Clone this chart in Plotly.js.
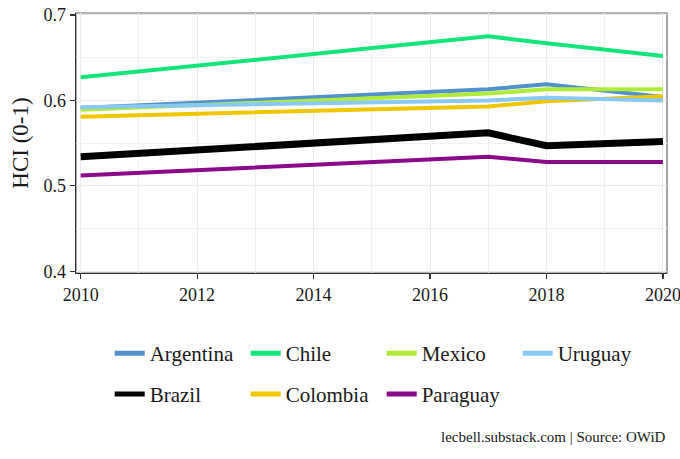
<!DOCTYPE html>
<html>
<head>
<meta charset="utf-8">
<script src="https://cdn.plot.ly/plotly-3.0.1.min.js"></script>
<style>
  html, body { margin: 0; padding: 0; background: #fff; }
  #chart { width: 680px; height: 459px; }
</style>
</head>
<body>
<div id="chart"></div>
<script>
// Human Capital Index, selected Latin American countries
const YEARS = [2010, 2017, 2018, 2020];

const ARGENTINA = [0.591, 0.613, 0.619, 0.604];
const BRAZIL    = [0.534, 0.562, 0.547, 0.552];
const CHILE     = [0.627, 0.675, 0.667, 0.652];
const COLOMBIA  = [0.581, 0.593, 0.599, 0.605];
const MEXICO    = [0.589, 0.608, 0.613, 0.613];
const PARAGUAY  = [0.512, 0.534, 0.528, 0.528];
const URUGUAY   = [0.592, 0.600, 0.603, 0.600];

const X_TICKS = [2010, 2012, 2014, 2016, 2018, 2020];
const Y_TICKS = [0.4, 0.5, 0.6, 0.7];

// draw order (alphabetical, later on top) and legend row
const SERIES = [
  { name: 'Argentina', y: ARGENTINA, color: '#5191cc', width: 4, row: 1 },
  { name: 'Brazil',    y: BRAZIL,    color: '#000000', width: 7, row: 2 },
  { name: 'Chile',     y: CHILE,     color: '#14e47a', width: 4, row: 1 },
  { name: 'Colombia',  y: COLOMBIA,  color: '#efc700', width: 4, row: 2 },
  { name: 'Mexico',    y: MEXICO,    color: '#b0eb3a', width: 4, row: 1 },
  { name: 'Paraguay',  y: PARAGUAY,  color: '#8a0a8a', width: 4, row: 2 },
  { name: 'Uruguay',   y: URUGUAY,   color: '#8ac9f4', width: 4, row: 1 }
];

const FONT = "'Liberation Serif', 'Times New Roman', serif";
const INK  = '#1a1a1a';

const lineTraces = SERIES.map(s => ({
  type: 'scatter',
  mode: 'lines',
  name: s.name,
  x: YEARS,
  y: s.y,
  line: { color: s.color, width: s.width },
  showlegend: false,
  hoverinfo: 'skip'
}));

// legend-only entries so every swatch has the same thickness
const legendTraces = SERIES.map(s => ({
  type: 'scatter',
  mode: 'lines',
  name: s.name,
  x: [null],
  y: [null],
  line: { color: s.color, width: 5 },
  legend: s.row === 1 ? 'legend' : 'legend2',
  showlegend: true
}));

const legendBase = {
  orientation: 'h',
  xanchor: 'left',
  yanchor: 'middle',
  x: 0.057,
  entrywidth: 91,
  entrywidthmode: 'pixels',
  itemwidth: 30,
  font: { family: FONT, size: 21, color: INK },
  bgcolor: 'rgba(0,0,0,0)',
  borderwidth: 0
};

const axisBase = {
  showline: true,
  linecolor: '#333',
  linewidth: 1.3,
  ticks: 'outside',
  ticklen: 5,
  tickwidth: 1.2,
  tickcolor: '#333',
  gridcolor: '#ebebeb',
  gridwidth: 1,
  zeroline: false,
  ticklabeloverflow: 'allow',
  tickfont: { family: FONT, size: 18, color: INK }
};

const layout = {
  width: 680,
  height: 459,
  paper_bgcolor: '#fff',
  plot_bgcolor: '#fff',
  margin: { t: 13, r: 13, b: 186, l: 76, pad: 0 },
  font: { family: FONT, color: INK },
  showlegend: true,
  xaxis: {
    ...axisBase,
    range: [2009.92, 2020.07],
    tickvals: X_TICKS,
    ticktext: X_TICKS.map(String),
    minor: { dtick: 1, tick0: 2011, showgrid: true, gridcolor: '#f1f1f1', ticks: '' }
  },
  yaxis: {
    ...axisBase,
    range: [0.398, 0.7023],
    tickvals: Y_TICKS,
    ticktext: Y_TICKS.map(v => v.toFixed(1)),
    minor: { dtick: 0.05, tick0: 0.45, showgrid: true, gridcolor: '#f1f1f1', ticks: '' },
    title: { text: 'HCI (0-1)', standoff: 8, font: { family: FONT, size: 23, color: INK } }
  },
  legend: { ...legendBase, y: -0.31 },
  legend2: { ...legendBase, y: -0.467 },
  shapes: [{
    type: 'rect', xref: 'paper', yref: 'paper',
    x0: 0, x1: 1, y0: 0, y1: 1,
    line: { color: '#6a6a6a', width: 1.2 },
    layer: 'below'
  }],
  annotations: [{
    xref: 'paper', yref: 'paper',
    x: 1.002, y: -0.632,
    xanchor: 'right', yanchor: 'middle',
    showarrow: false,
    text: 'lecbell.substack.com | Source: OWiD',
    font: { family: FONT, size: 15, color: INK }
  }]
};

Plotly.newPlot('chart', [...lineTraces, ...legendTraces], layout, { displayModeBar: false, staticPlot: true });
</script>
</body>
</html>
